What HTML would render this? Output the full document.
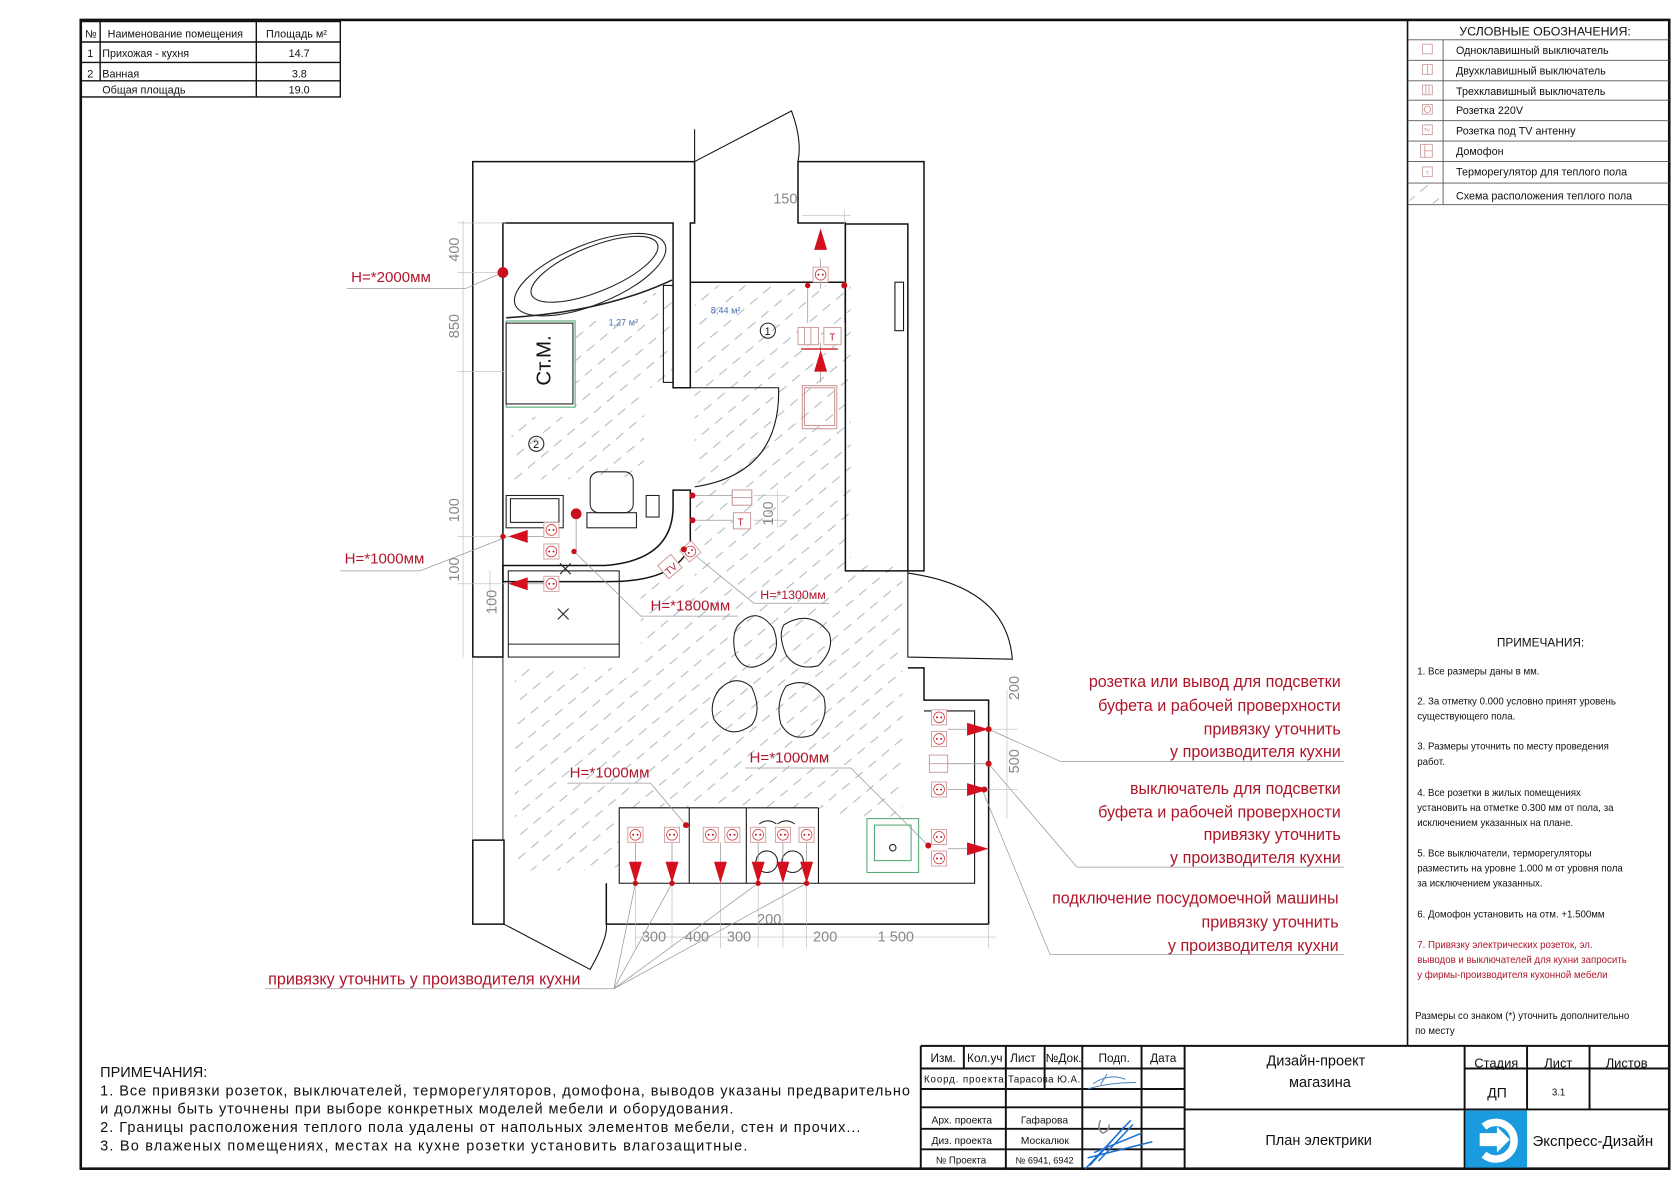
<!DOCTYPE html>
<html><head><meta charset="utf-8"><style>
html,body{margin:0;padding:0;background:#fff}
svg{display:block}
text{font-family:"Liberation Sans Narrow","Liberation Sans","DejaVu Sans",sans-serif}
.k{fill:#111}.r{fill:#b0162a}.g{fill:#888}
</style></head><body>
<svg width="1680" height="1187" viewBox="0 0 1560 1102" preserveAspectRatio="none" xmlns="http://www.w3.org/2000/svg">
<defs>
<pattern id="h" patternUnits="userSpaceOnUse" width="16" height="16" patternTransform="rotate(-40)">
<line x1="0" y1="8" x2="9" y2="8" stroke="#9fb3c0" stroke-width="0.9"/>
</pattern>
<g id="s"><rect x="-7" y="-7" width="14" height="14" fill="#fff" stroke="#c99" stroke-width="0.8"/><circle r="5" fill="none" stroke="#c33" stroke-width="0.7"/><circle cx="-2" r="0.9" fill="#b0162a"/><circle cx="2" r="0.9" fill="#b0162a"/></g>
<path id="ad" d="M-6,-12 L6,-12 L0,8 Z" fill="#d40f1e"/>
<path id="ar" d="M-12,-6 L-12,6 L8,0 Z" fill="#d40f1e"/>
</defs>
<rect width="1560" height="1102" fill="#fff"/>
<!-- border -->
<rect x="75" y="18.5" width="1475" height="1066.5" fill="none" stroke="#111" stroke-width="2.4"/>
<line x1="1307" y1="18.5" x2="1307" y2="971" stroke="#111" stroke-width="1.5"/>

<!-- room table -->
<g stroke="#111" stroke-width="1.3" fill="none">
<rect x="75" y="20" width="241" height="70"/>
<line x1="75" y1="39" x2="316" y2="39"/><line x1="75" y1="58" x2="316" y2="58"/><line x1="75" y1="75" x2="316" y2="75"/>
<line x1="93" y1="20" x2="93" y2="75"/><line x1="238" y1="20" x2="238" y2="90"/>
</g>
<g class="k" font-size="10">
<text x="79" y="35">№</text><text x="100" y="35">Наименование помещения</text><text x="247" y="35">Площадь м²</text>
<text x="81" y="53">1</text><text x="95" y="53">Прихожая - кухня</text><text x="268" y="53">14.7</text>
<text x="81" y="72">2</text><text x="95" y="72">Ванная</text><text x="271" y="72">3.8</text>
<text x="95" y="87">Общая площадь</text><text x="268" y="87">19.0</text>
</g>

<!-- legend -->
<g stroke="#555" stroke-width="0.8" fill="none">
<line x1="1307" y1="37" x2="1550" y2="37"/><line x1="1307" y1="56" x2="1550" y2="56"/><line x1="1307" y1="75" x2="1550" y2="75"/>
<line x1="1307" y1="93" x2="1550" y2="93"/><line x1="1307" y1="112" x2="1550" y2="112"/><line x1="1307" y1="131" x2="1550" y2="131"/>
<line x1="1307" y1="150" x2="1550" y2="150"/><line x1="1307" y1="170" x2="1550" y2="170"/><line x1="1307" y1="190" x2="1550" y2="190"/>
<line x1="1340" y1="37" x2="1340" y2="190"/>
</g>
<g stroke="#c99" stroke-width="0.8" fill="none">
<rect x="1321" y="41" width="9" height="9"/><rect x="1321" y="60" width="9" height="9"/><line x1="1325.5" y1="60" x2="1325.5" y2="69"/>
<rect x="1321" y="79" width="9" height="9"/><line x1="1324" y1="79" x2="1324" y2="88"/><line x1="1327" y1="79" x2="1327" y2="88"/>
<rect x="1321" y="97" width="9" height="9"/><circle cx="1325.5" cy="101.5" r="3"/><rect x="1321" y="116" width="9" height="9"/>
<rect x="1319" y="134" width="11" height="12"/><line x1="1323" y1="134" x2="1323" y2="146"/><line x1="1323" y1="140" x2="1330" y2="140"/>
<rect x="1321" y="155" width="9" height="9"/>
</g>
<g fill="#c66" font-size="4.5"><text x="1322" y="122">TV</text><text x="1324" y="162">T</text></g>
<rect x="1309" y="171" width="31" height="18" fill="url(#h)"/>
<g class="k" font-size="10">
<text x="1355" y="33" font-size="11.5">УСЛОВНЫЕ ОБОЗНАЧЕНИЯ:</text>
<text x="1352" y="50">Одноклавишный выключатель</text>
<text x="1352" y="69">Двухклавишный выключатель</text>
<text x="1352" y="88">Трехклавишный выключатель</text>
<text x="1352" y="106">Розетка 220V</text>
<text x="1352" y="125">Розетка под TV антенну</text>
<text x="1352" y="144">Домофон</text>
<text x="1352" y="163">Терморегулятор для теплого пола</text>
<text x="1352" y="185">Схема расположения теплого пола</text>
</g>

<!-- right notes -->
<g class="k" font-size="9">
<text x="1390" y="600" font-size="11">ПРИМЕЧАНИЯ:</text>
<text x="1316" y="626">1. Все размеры даны в мм.</text>
<text x="1316" y="654">2. За отметку 0.000 условно принят уровень</text>
<text x="1316" y="668">существующего пола.</text>
<text x="1316" y="696">3. Размеры уточнить по месту проведения</text>
<text x="1316" y="710">работ.</text>
<text x="1316" y="739">4. Все розетки в жилых помещениях</text>
<text x="1316" y="753">установить на отметке 0.300 мм от пола, за</text>
<text x="1316" y="767">исключением указанных на плане.</text>
<text x="1316" y="795">5. Все выключатели, терморегуляторы</text>
<text x="1316" y="809">разместить на уровне 1.000 м от уровня пола</text>
<text x="1316" y="823">за исключением указанных.</text>
<text x="1316" y="852">6. Домофон установить на отм. +1.500мм</text>
<text x="1316" y="880" class="r">7. Привязку электрических розеток, эл.</text>
<text x="1316" y="894" class="r">выводов и выключателей для кухни запросить</text>
<text x="1316" y="908" class="r">у фирмы-производителя кухонной мебели</text>
<text x="1314" y="946">Размеры со знаком (*) уточнить дополнительно</text>
<text x="1314" y="960">по месту</text>
</g>

<!-- bottom notes -->
<g class="k" font-size="13.5">
<text x="93" y="1000">ПРИМЕЧАНИЯ:</text>
<text x="93" y="1017" textLength="752">1. Все привязки розеток, выключателей, терморегуляторов, домофона, выводов указаны предварительно</text>
<text x="93" y="1034" textLength="588">и должны быть уточнены при выборе конкретных моделей мебели и оборудования.</text>
<text x="93" y="1051" textLength="706">2. Границы расположения теплого пола удалены от напольных элементов мебели, стен и прочих...</text>
<text x="93" y="1068" textLength="601">3. Во влаженых помещениях, местах на кухне розетки установить влагозащитные.</text>
</g>

<!-- title block -->
<g stroke="#111" stroke-width="1.8" fill="none">
<line x1="855" y1="971" x2="1550" y2="971"/>
<line x1="855" y1="971" x2="855" y2="1085"/>
<line x1="855" y1="992" x2="1100" y2="992"/>
<line x1="855" y1="1011" x2="1100" y2="1011"/>
<line x1="855" y1="1028" x2="1100" y2="1028"/>
<line x1="855" y1="1048" x2="1100" y2="1048"/>
<line x1="855" y1="1067" x2="1100" y2="1067"/>
<line x1="895" y1="971" x2="895" y2="992"/>
<line x1="934" y1="971" x2="934" y2="1085"/>
<line x1="970" y1="971" x2="970" y2="1011"/>
<line x1="1005" y1="971" x2="1005" y2="1085"/>
<line x1="1060" y1="971" x2="1060" y2="1085"/>
<line x1="1100" y1="971" x2="1100" y2="1085"/>
<line x1="1100" y1="1030" x2="1550" y2="1030"/>
<line x1="1360" y1="971" x2="1360" y2="1085"/>
<line x1="1360" y1="992" x2="1550" y2="992"/>
<line x1="1418" y1="971" x2="1418" y2="1030"/>
<line x1="1476" y1="971" x2="1476" y2="1030"/>
</g>
<rect x="1361" y="1031" width="57" height="53" fill="#1a9be0"/>
<path d="M1378,1046 A17,17 0 1 1 1378,1072" fill="none" stroke="#fff" stroke-width="7"/>
<path d="M1374,1052 L1390,1052 L1390,1046 L1402,1058 L1390,1070 L1390,1064 L1374,1064 Z" fill="#fff"/>
<g class="k" font-size="11">
<text x="864" y="986">Изм.</text><text x="898" y="986">Кол.уч</text><text x="938" y="986">Лист</text><text x="971" y="986">№Док.</text>
<text x="1020" y="986">Подп.</text><text x="1068" y="986">Дата</text>
<text x="858" y="1005" font-size="9" textLength="74">Коорд. проекта</text><text x="936" y="1005" font-size="9" textLength="67">Тарасова Ю.А.</text>
<text x="865" y="1043" font-size="9.5">Арх. проекта</text><text x="948" y="1043" font-size="9.5">Гафарова</text>
<text x="865" y="1062" font-size="9.5">Диз. проекта</text><text x="948" y="1062" font-size="9.5">Москалюк</text>
<text x="869" y="1080" font-size="9">№ Проекта</text><text x="943" y="1080" font-size="8.5">№ 6941, 6942</text>
<text x="1176" y="989" font-size="13.5">Дизайн-проект</text>
<text x="1197" y="1009" font-size="13.5">магазина</text>
<text x="1175" y="1063" font-size="13.5">План электрики</text>
<text x="1369" y="991" font-size="12">Стадия</text><text x="1434" y="991" font-size="12">Лист</text><text x="1491" y="991" font-size="12">Листов</text>
<text x="1381" y="1019" font-size="13">ДП</text><text x="1441" y="1017" font-size="9">3.1</text>
<text x="1423" y="1064" font-size="14">Экспресс-Дизайн</text>
</g>
<g stroke="#4a7fbf" stroke-width="0.9" fill="none">
<path d="M1010,1011 q20,-6 45,-6 M1015,1006 q15,-10 30,-4 M1028,997 l-6,10"/>
</g>
<g stroke="#1a6fd0" stroke-width="1.4" fill="none">
<path d="M1008,1085 L1050,1040 M1010,1075 L1070,1060 M1020,1078 L1052,1044 M1016,1070 L1060,1052 M1012,1082 L1044,1046"/>
<path d="M1022,1040 q-4,8 2,12 q6,-2 6,-8" stroke="#888"/>
</g>

<!-- ===== PLAN ===== -->
<g fill="url(#h)">
<polygon points="597,272 625,272 625,360 598,360 598,445 475,445 475,387 534,387 534,298 597,298"/>
<polygon points="645,265 790,265 790,525 838,525 838,758 760,758 760,750 575,750 575,808 478,808 478,620 595,620 595,540 645,540"/>
</g>
<g fill="#4a6fb0" font-size="8.5"><text x="565" y="302">1,27 м²</text><text x="660" y="291">8,44 м²</text></g>

<g stroke="#111" stroke-width="1.4" fill="none">
<path d="M645,150 L439,150 L439,610 L467,610 L467,207 L625,207 L625,360 L641,360 L641,207 L645,207 L645,150"/>
<path d="M741,150 L858,150 L858,530 L843,530 L843,208 L785,208 L785,207 L741,207 Z"/>
<path d="M641,262 L785,262"/>
<path d="M785,208 L785,262"/>
<path d="M785,262 L785,530 L843,530"/>
<path d="M843,620 L858,620 L858,650 L918,650 L918,858 L563,858 L563,820"/>
<path d="M439,780 L468,780 L468,858 L439,858 Z"/>
<path d="M467,610 L467,780" stroke-width="0.8"/>
<path d="M439,610 L439,780" stroke-width="0.5" stroke="#999"/>
<path d="M625,455 L641,455 L641,505 Q630,540 565,540 L467,540 L467,525 L562,525 Q625,520 625,470 Z"/>
<path d="M858,660 L905,660 L905,820 L575,820 L575,750 L760,750" stroke-width="1"/>
<path d="M640,750 L640,820 M693,750 L693,820 M760,750 L760,820" stroke-width="1"/>
</g>
<g stroke="#111" stroke-width="1" fill="none">
<path d="M645,150 L645,120 M645,150 L735,103 Q745,130 741,150"/>
<path d="M641,360 L723,360 Q725,440 645,452"/>
<path d="M843,530 L843,610 L940,612 Q935,545 843,532"/>
<path d="M468,858 L548,900 Q565,870 563,858"/>
<line x1="625" y1="270" x2="625" y2="355" stroke-width="0.8"/>
<rect x="616" y="265" width="9" height="90"/>
<rect x="831" y="262" width="8" height="45"/>
</g>
<g stroke="#222" stroke-width="1" fill="none">
<ellipse cx="548" cy="255" rx="75" ry="28" transform="rotate(-22 548 255)"/>
<ellipse cx="552" cy="250" rx="63" ry="21" transform="rotate(-22 552 250)"/>
<path d="M470,295 Q560,290 624,260" stroke-width="1.5"/>
<rect x="470" y="298" width="64" height="80" stroke="#5a7"/>
<rect x="470" y="300" width="62" height="75" fill="#fff"/>
<rect x="548" y="438" width="40" height="38" rx="8"/>
<rect x="545" y="476" width="46" height="14"/>
<rect x="470" y="460" width="53" height="30"/><rect x="474" y="463" width="45" height="22"/>
<rect x="472" y="530" width="103" height="80"/>
<path d="M472,598 L575,598 M520,523 L530,533 M530,523 L520,533" />
<path d="M518,565 l10,10 m0,-10 l-10,10"/>
<rect x="600" y="460" width="12" height="20"/>
<path d="M688,578 q15,-15 30,5 q8,20 -5,30 q-20,15 -30,-5 q-5,-22 5,-30 z"/>
<path d="M728,580 q25,-15 42,8 q5,15 -10,30 q-20,5 -30,-10 q-8,-18 -2,-28 z"/>
<path d="M668,640 q15,-15 30,-2 q10,22 0,35 q-20,15 -35,-5 q-5,-15 5,-28 z"/>
<path d="M730,637 q20,-10 35,10 q5,20 -10,35 q-20,8 -30,-10 q-5,-20 5,-35 z"/>
<rect x="805" y="760" width="48" height="50" stroke="#5a7"/><rect x="812" y="766" width="34" height="33" stroke="#5a7"/>
<circle cx="829" cy="787" r="3"/>
<circle cx="712" cy="800" r="10"/><circle cx="736" cy="800" r="10"/>
<path d="M705,765 q8,-6 16,0 M722,765 q8,-6 16,0"/>
<rect x="747" y="360" width="28" height="35" stroke="#c99"/><rect x="745" y="358" width="32" height="40" stroke="#c99"/>
<rect x="680" y="455" width="18" height="14" stroke="#c99"/>
</g>
<g fill="none" stroke="#222" stroke-width="1"><circle cx="713" cy="307" r="7"/><circle cx="498" cy="412" r="7"/></g>
<g class="k" font-size="10"><text x="710" y="311">1</text><text x="495" y="416">2</text></g>
<text x="511" y="358" font-size="19" class="k" transform="rotate(-90 511 358)">Ст.М.</text>

<g stroke="#bbb" stroke-width="0.6" fill="none">
<line x1="430" y1="205" x2="430" y2="610"/><line x1="425" y1="253" x2="470" y2="253"/><line x1="425" y1="207" x2="470" y2="207"/><line x1="425" y1="345" x2="470" y2="345"/>
<line x1="425" y1="498" x2="470" y2="498"/><line x1="425" y1="542" x2="470" y2="542"/>
<line x1="455" y1="530" x2="455" y2="570"/>
<line x1="745" y1="200" x2="790" y2="200"/><line x1="784" y1="195" x2="784" y2="270"/>
<line x1="700" y1="460" x2="730" y2="460"/><line x1="700" y1="483" x2="730" y2="483"/><line x1="722" y1="455" x2="722" y2="490"/>
<line x1="935" y1="640" x2="935" y2="760"/><line x1="905" y1="677" x2="945" y2="677"/><line x1="905" y1="733" x2="945" y2="733"/>
<line x1="590" y1="870" x2="925" y2="870"/>
<line x1="590" y1="820" x2="590" y2="880"/><line x1="624" y1="820" x2="624" y2="880"/><line x1="669" y1="820" x2="669" y2="880"/><line x1="704" y1="820" x2="704" y2="880"/><line x1="727" y1="820" x2="727" y2="880"/><line x1="749" y1="820" x2="749" y2="880"/><line x1="918" y1="858" x2="918" y2="880"/>
</g>
<g class="g" font-size="13.5">
<text x="718" y="189">150</text>
<text x="426" y="243" transform="rotate(-90 426 243)">400</text>
<text x="426" y="314" transform="rotate(-90 426 314)">850</text>
<text x="426" y="485" transform="rotate(-90 426 485)">100</text>
<text x="426" y="540" transform="rotate(-90 426 540)">100</text>
<text x="461" y="570" transform="rotate(-90 461 570)">100</text>
<text x="718" y="488" transform="rotate(-90 718 488)">100</text>
<text x="946" y="650" transform="rotate(-90 946 650)">200</text>
<text x="946" y="718" transform="rotate(-90 946 718)">500</text>
<text x="596" y="874">300</text><text x="636" y="874">400</text><text x="675" y="874">300</text>
<text x="703" y="858">200</text><text x="755" y="874">200</text><text x="815" y="874">1 500</text>
</g>

<g stroke="#999" stroke-width="0.7" fill="none">
<path d="M322,268 L432,268 L467,253"/>
<path d="M316,530 L390,530 L472,498"/>
<path d="M533,512 L595,572 L685,572"/>
<path d="M641,512 L700,560 L770,560"/>
<path d="M527,727 L604,727 L637,766"/>
<path d="M692,713 L790,713 L862,785"/>
<path d="M246,918 L570,918 M570,918 L590,820 M570,918 L624,820 M570,918 L704,820 M570,918 L749,820"/>
<path d="M918,677 L985,707 L1248,707"/>
<path d="M918,709 L1000,805 L1248,805"/>
<path d="M912,733 L975,886 L1248,886"/>
<path d="M762,268 L762,240 M750,265 L750,300 M784,265 L784,300 M762,318 L762,355"/>
<path d="M643,460 L680,460 M643,483 L680,483"/>
<path d="M490,498 L505,498 M490,542 L505,542 M535,477 L535,512"/>
<path d="M590,782 L590,800 M624,782 L624,800 M669,782 L669,800 M704,782 L704,800 M727,782 L727,800 M749,782 L749,800"/>
<path d="M880,677 L898,677 M880,709 L918,709 M880,733 L898,733 M880,788 L898,788"/>
</g>

<g stroke="#c99" stroke-width="0.9" fill="#fff">
<rect x="741" y="304" width="19" height="16"/><line x1="747" y1="304" x2="747" y2="320"/><line x1="753" y1="304" x2="753" y2="320"/>
<rect x="765" y="304" width="16" height="16"/>
<rect x="681" y="476" width="16" height="15"/>
<rect x="680" y="455" width="18" height="14"/><line x1="680" y1="462" x2="698" y2="462"/>
<rect x="863" y="701" width="17" height="16"/><line x1="863" y1="709" x2="880" y2="709"/>
<rect x="614" y="518" width="16" height="16" transform="rotate(-40 622 526)"/>
</g>
<g class="r" font-size="9"><text x="770" y="316">T</text><text x="685" y="488">T</text><text x="617" y="532" transform="rotate(-40 622 528)">TV</text></g>
<line x1="744" y1="324" x2="778" y2="324" stroke="#c00" stroke-width="1.2"/>

<use href="#s" x="762" y="255"/><use href="#s" x="512" y="492"/><use href="#s" x="512" y="512"/><use href="#s" x="512" y="542"/>
<use href="#s" x="641" y="512" transform="rotate(-40 641 512)"/>
<use href="#s" x="590" y="775"/><use href="#s" x="624" y="775"/><use href="#s" x="660" y="775"/><use href="#s" x="680" y="775"/>
<use href="#s" x="704" y="775"/><use href="#s" x="727" y="775"/><use href="#s" x="749" y="775"/>
<use href="#s" x="872" y="666"/><use href="#s" x="872" y="686"/><use href="#s" x="872" y="733"/><use href="#s" x="872" y="777"/><use href="#s" x="872" y="797"/>

<path d="M756,232 L768,232 L762,212 Z M756,345 L768,345 L762,325 Z" fill="#d40f1e"/>
<path d="M490,492 L490,504 L472,498 Z M490,536 L490,548 L472,542 Z" fill="#d40f1e"/>
<use href="#ad" x="590" y="812"/><use href="#ad" x="624" y="812"/><use href="#ad" x="669" y="812"/><use href="#ad" x="704" y="812"/><use href="#ad" x="727" y="812"/><use href="#ad" x="749" y="812"/>
<use href="#ar" x="910" y="677"/><use href="#ar" x="910" y="733"/><use href="#ar" x="910" y="788"/>
<g fill="#c8101c">
<circle cx="467" cy="253" r="5"/><circle cx="535" cy="477" r="5"/><circle cx="533" cy="512" r="2.5"/>
<circle cx="643" cy="460" r="2.8"/><circle cx="643" cy="483" r="2.8"/><circle cx="635" cy="510" r="2.8"/>
<circle cx="637" cy="766" r="2.8"/><circle cx="590" cy="820" r="2.5"/><circle cx="624" cy="820" r="2.5"/><circle cx="704" cy="820" r="2.5"/><circle cx="749" cy="820" r="2.5"/>
<circle cx="918" cy="677" r="2.8"/><circle cx="918" cy="709" r="2.8"/><circle cx="914" cy="733" r="2.8"/><circle cx="862" cy="785" r="2.8"/>
<circle cx="750" cy="265" r="2.5"/><circle cx="784" cy="265" r="2.8"/><circle cx="467" cy="498" r="2.5"/>
</g>

<g class="r" font-size="14">
<text x="326" y="262">H=*2000мм</text>
<text x="320" y="523">H=*1000мм</text>
<text x="604" y="567">H=*1800мм</text>
<text x="706" y="556" font-size="11.5">H=*1300мм</text>
<text x="529" y="722">H=*1000мм</text>
<text x="696" y="708">H=*1000мм</text>
</g>
<g class="r" font-size="15" text-anchor="end">
<text x="1245" y="638">розетка или вывод для подсветки</text>
<text x="1245" y="660">буфета и рабочей проверхности</text>
<text x="1245" y="682">привязку уточнить</text>
<text x="1245" y="703">у производителя кухни</text>
<text x="1245" y="737">выключатель для подсветки</text>
<text x="1245" y="759">буфета и рабочей проверхности</text>
<text x="1245" y="780">привязку уточнить</text>
<text x="1245" y="801">у производителя кухни</text>
<text x="1243" y="839">подключение посудомоечной машины</text>
<text x="1243" y="861">привязку уточнить</text>
<text x="1243" y="883">у производителя кухни</text>
</g>
<text x="249" y="914" class="r" font-size="15">привязку уточнить у производителя кухни</text>
</svg>
</body></html>
